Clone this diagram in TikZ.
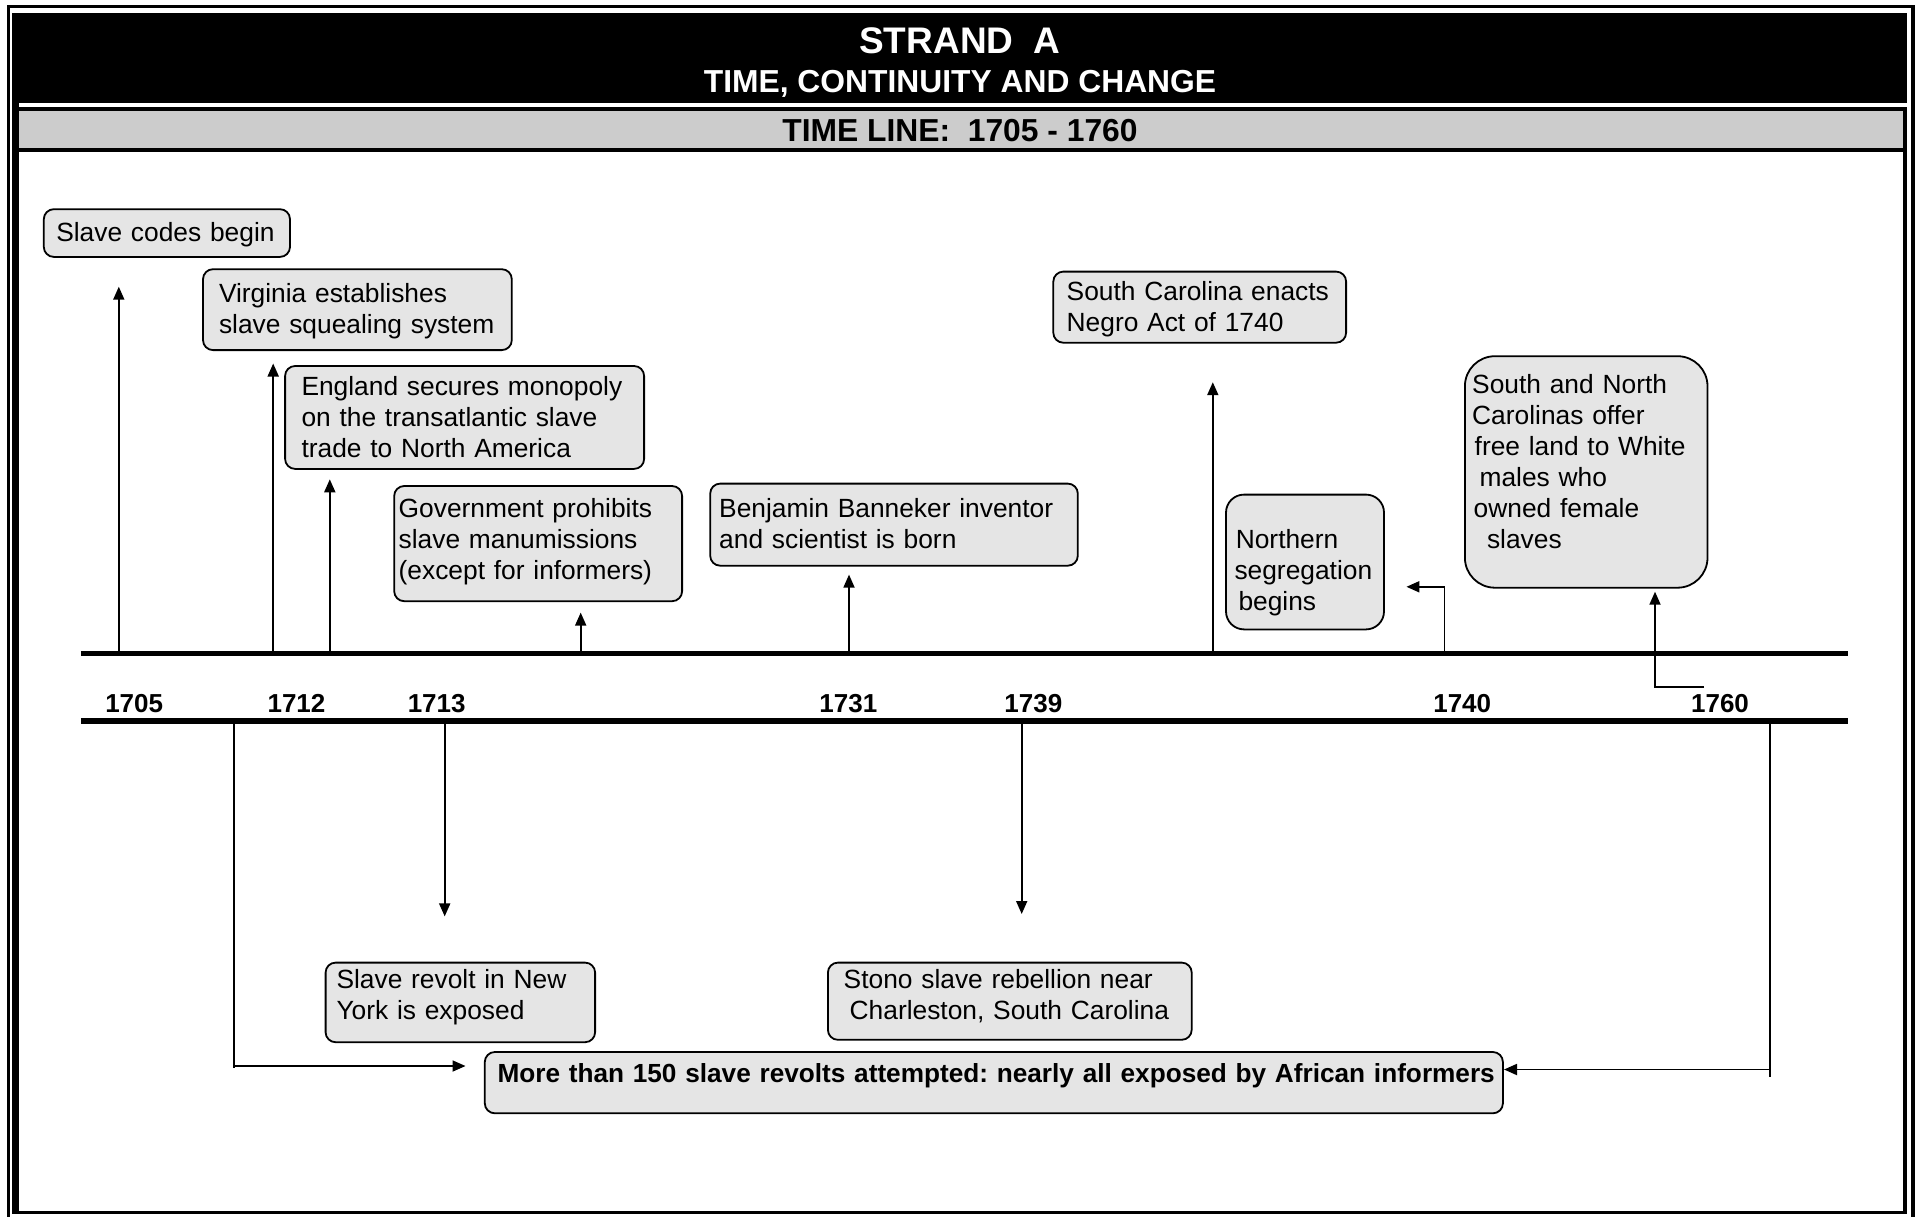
\documentclass[tikz,border=0pt]{standalone}
\usepackage{fontspec}
\setmainfont{Liberation Sans}
\usetikzlibrary{arrows.meta}
\hyphenpenalty=10000
\exhyphenpenalty=10000
\frenchspacing
% fixed first-line height and last-line depth, so text sits where wanted in its box
\newcommand\tophgt[1]{\rule{0pt}{#1pt}}
\newcommand\botdp[1]{\rule[-#1pt]{0pt}{0pt}}
\begin{document}
\begin{tikzpicture}[x=1pt,y=-1pt,
  evbox/.style={draw=black, line width=1.8pt, fill=gray!20, rounded corners=10pt,
    anchor=north west, inner xsep=0pt, inner ysep=0pt, align=left,
    font=\fontsize{26.35}{31}\selectfont},
  lskip/.style={execute at begin node={\leftskip=#1pt\relax}},
  arr/.style={line width=1.8pt, -{Triangle[length=13pt,width=11pt]}},
  conn/.style={line width=1.8pt},
  yearlbl/.style={anchor=base, inner sep=0pt, font=\fontsize{26}{31}\selectfont\bfseries},
  headtxt/.style={anchor=base, inner sep=0pt, font=\fontsize{31.8}{36}\selectfont\bfseries},
]
\useasboundingbox (0,0) rectangle (1921,1217);

% ---- frame ----
\draw[line width=3.4pt] (8.4,1217) -- (8.4,6.7) -- (1913,6.7) -- (1913,1217);
\fill (12,12.7) rectangle (19,1214.3);
\fill (12,12.7) rectangle (1907,103);
\fill (12,106.7) rectangle (1907,151.7);
\fill[black!20] (19,111) rectangle (1902.7,147.7);
\fill (1902.7,147.7) rectangle (1906.7,1214.3);
\fill (12,1211) rectangle (1906.7,1214.3);

% ---- titles ----
\node[anchor=base, inner sep=0pt, text=white, font=\fontsize{37}{40}\selectfont\bfseries]
  (strand) at (960,53.9) {STRAND~~A};
\node[headtxt, text=white] (theme) at (960,92.2) {TIME, CONTINUITY AND CHANGE};
\node[headtxt] (span) at (960,141.2) {TIME LINE:~~1705 - 1760};

% ---- the two rails of the time line ----
\coordinate (railAw) at (80.9,653.3);  \coordinate (railAe) at (1847.5,653.3);
\coordinate (railBw) at (80.9,721.3);  \coordinate (railBe) at (1847.5,721.3);
\draw[line width=5.5pt] (railAw) -- (railAe);
\draw[line width=6pt] (railBw) -- (railBe);

% ---- years ----
\node[yearlbl] (y1705) at (134.2,712) {1705};
\node[yearlbl] (y1712) at (296.5,712) {1712};
\node[yearlbl] (y1713) at (436.7,712) {1713};
\node[yearlbl] (y1731) at (848.4,712) {1731};
\node[yearlbl] (y1739) at (1033.4,712) {1739};
\node[yearlbl] (y1740) at (1462.2,712) {1740};
\node[yearlbl] (y1760) at (1720,712) {1760};

% ---- events above the line ----
\node[evbox, lskip=12.5, text width=246.2pt, minimum height=47.7pt] (codes) at (42.9,208.3)
  {\tophgt{24}Slave codes begin\botdp{6.3}};
\node[evbox, lskip=16, text width=308.8pt, minimum height=80.9pt] (virginia) at (202.1,268.3)
  {\tophgt{24}Virginia establishes\\slave squealing system\botdp{8.2}};
\node[evbox, lskip=16.4, text width=359pt, minimum height=102.9pt] (england) at (284.2,365.1)
  {\tophgt{24}England secures monopoly\\on the transatlantic slave\\trade to North America\botdp{6.6}};
\node[evbox, lskip=4.5, text width=287.9pt, minimum height=115.2pt] (govt) at (393.3,485.1)
  {\tophgt{24}Government prohibits\\slave manumissions\\(except for informers)\botdp{14}};
\node[evbox, lskip=9, text width=367.6pt, minimum height=82.1pt] (banneker) at (709.3,482.7)
  {\tophgt{24}Benjamin Banneker inventor\\and scientist is born\botdp{7.1}};
\node[evbox, lskip=13.4, text width=292.8pt, minimum height=71.1pt] (negroact) at (1052.4,270.7)
  {\tophgt{24}South Carolina enacts\\Negro Act of 1740\botdp{3.4}};
\node[evbox, rounded corners=18pt, lskip=8.5, text width=158pt, minimum height=134.8pt] (north) at (1225.1,493.7)
  {\tophgt{45}\hspace*{1.3pt}Northern\\segregation\\\hspace*{4pt}begins\botdp{10.6}};
\node[evbox, rounded corners=30pt, lskip=7.3, text width=242.6pt, minimum height=231.5pt] (carolinas) at (1464,355.3)
  {\tophgt{24}South and North\\Carolinas offer\\\hspace*{2.5pt}free land to White\\\hspace*{7.4pt}males who\\\hspace*{1.5pt}owned female\\\hspace*{14.8pt}slaves\botdp{25.1}};

% ---- events below the line ----
\node[evbox, lskip=10.9, text width=269.5pt, minimum height=79.6pt] (newyork) at (324.7,961.7)
  {\tophgt{24}Slave revolt in New\\York is exposed\botdp{21.8}};
\node[evbox, lskip=15.8, text width=363.8pt, minimum height=77.2pt] (stono) at (827,961.7)
  {\tophgt{24}Stono slave rebellion near\\\hspace*{6pt}Charleston, South Carolina\botdp{19.4}};
\node[evbox, lskip=12.7, text width=1018.1pt, minimum height=61.3pt,
  font=\fontsize{26.2}{31}\selectfont\bfseries] (revolts) at (483.9,1051.1)
  {\tophgt{24}\mbox{More than 150 slave revolts attempted: nearly all exposed by African informers}\botdp{24.5}};

% ---- connectors: up from the upper rail ----
\coordinate (a1705) at (118.8,653.3);  \coordinate (h1705) at (118.8,286.7);
\coordinate (a1712) at (273.2,653.3);  \coordinate (h1712) at (273.2,363.5);
\coordinate (aEng)  at (329.8,653.3);  \coordinate (hEng)  at (329.8,479.3);
\coordinate (aGov)  at (580.7,653.3);  \coordinate (hGov)  at (580.7,612.6);
\coordinate (a1731) at (849,653.3);    \coordinate (h1731) at (849,574.6);
\coordinate (aSC)   at (1212.8,653.3); \coordinate (hSC)   at (1212.8,382.2);
\coordinate (a1740) at (1444.4,653.3); \coordinate (h1740) at (1406.4,586.8);
\coordinate (a1760) at (1704,686.7);   \coordinate (h1760) at (1655,591.7);
\draw[arr] (a1705) -- (h1705);
\draw[arr] (a1712) -- (h1712);
\draw[arr] (aEng) -- (hEng);
\draw[arr] (aGov) -- (hGov);
\draw[arr] (a1731) -- (h1731);
\draw[arr] (aSC) -- (hSC);
\draw[arr] (a1740) |- (h1740);
\draw[arr] (a1760) -| (h1760);

% ---- connectors: down from the lower rail ----
\coordinate (b1713) at (444.7,721.3);  \coordinate (d1713) at (444.7,916.4);
\coordinate (b1739) at (1021.7,721.3); \coordinate (d1739) at (1021.7,914);
\draw[arr] (b1713) -- (d1713);
\draw[arr] (b1739) -- (d1739);
\coordinate (bL) at (234,721.3);    \coordinate (fL) at (234,1068);
\coordinate (kL) at (234,1066);     \coordinate (tL) at (465.5,1066);
\coordinate (bR) at (1770.3,721.3); \coordinate (fR) at (1770.3,1077);
\coordinate (kR) at (1770.3,1069.5);\coordinate (tR) at (1504,1069.5);
\draw[conn] (bL) -- (fL);
\draw[arr] (kL) -- (tL);
\draw[conn] (bR) -- (fR);
\draw[arr] (kR) -- (tR);
\end{tikzpicture}
\end{document}
